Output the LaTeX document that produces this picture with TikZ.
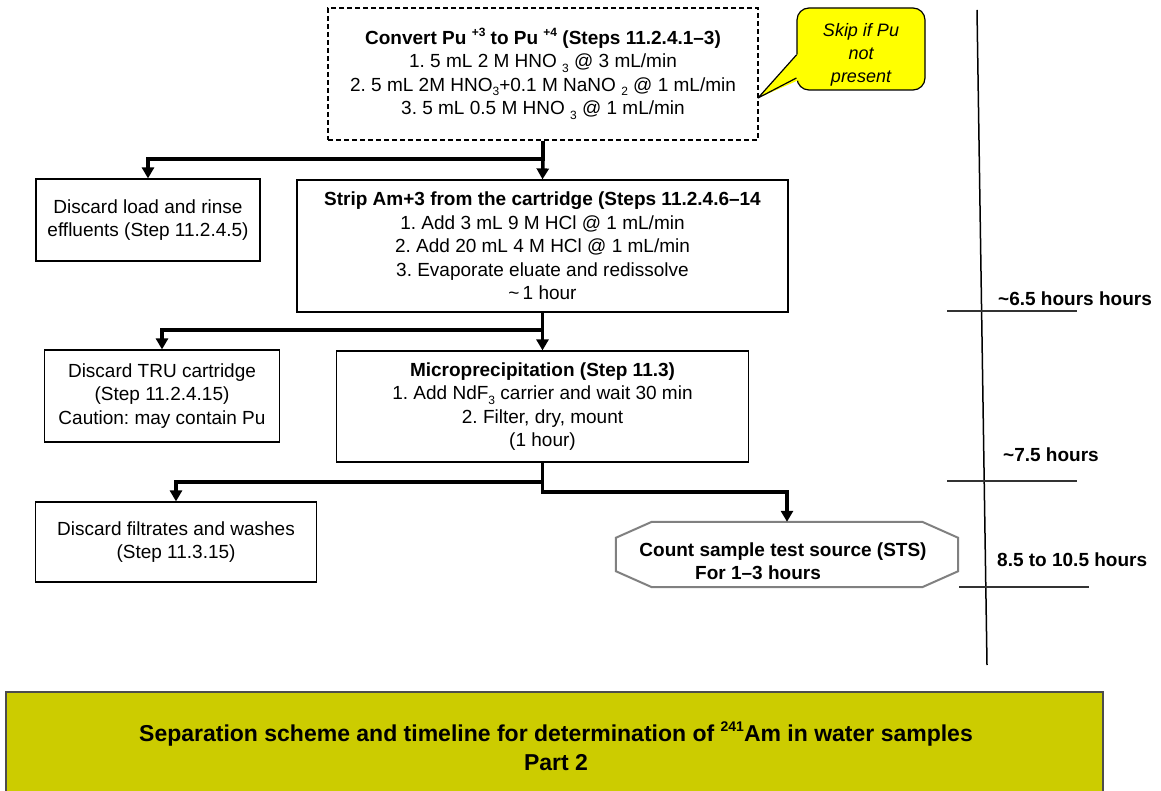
\documentclass[tikz,border=0pt]{standalone}
\usepackage{fontspec}
\setmainfont{Liberation Sans}
\usetikzlibrary{arrows.meta,calc}
\definecolor{callY}{RGB}{255,255,0}
\definecolor{bannerY}{RGB}{204,204,0}
\newcommand{\sbs}[1]{\raisebox{-0.45ex}{\fontsize{12}{12}\selectfont #1}}
\newcommand{\sps}[1]{\raisebox{0.75ex}{\fontsize{12}{12}\selectfont #1}}
\newcommand{\spb}[1]{\raisebox{0.8ex}{\fontsize{14}{14}\selectfont #1}}
\frenchspacing
\begin{document}
\begin{tikzpicture}[x=1pt,y=-1pt,
  box/.style={draw, line width=1.2pt, fill=white, align=center, inner sep=0pt,
    font=\fontsize{19}{23.5}\selectfont},
  dbox/.style={box, dash pattern=on 5pt off 3pt, line width=2.5pt},
  conn/.style={line width=3.5pt},
  arr/.style={conn, -{Triangle[width=12pt,length=11pt]}},
  tline/.style={line width=1.5pt},
  tickline/.style={line width=2pt, draw=black!80},
  tlabel/.style={anchor=west, font=\bfseries\fontsize{19}{22}\selectfont, inner sep=0pt}]
\useasboundingbox (0,0) rectangle (1161,791);

% boxes
\node[dbox, minimum width=430pt, minimum height=132pt] (conv) at (543,74)
  {\textbf{Convert Pu \sps{+3} to Pu \sps{+4} (Steps 11.2.4.1–3)}\\
   1. 5 mL 2 M HNO \sbs{3} @ 3 mL/min\\
   2. 5 mL 2M HNO\sbs{3}+0.1 M NaNO \sbs{2} @ 1 mL/min\\
   3. 5 mL 0.5 M HNO \sbs{3} @ 1 mL/min};

\node[box, minimum width=224pt, minimum height=82pt] (dload) at (148,220)
  {Discard load and rinse\\effluents (Step 11.2.4.5)};

\node[box, minimum width=491pt, minimum height=132pt] (strip) at (542.5,246)
  {\textbf{Strip Am+3 from the cartridge (Steps 11.2.4.6–14}\\
   1. Add 3 mL 9 M HCl @ 1 mL/min\\
   2. Add 20 mL 4 M HCl @ 1 mL/min\\
   3. Evaporate eluate and  redissolve\\
   \textasciitilde\,1 hour};

\node[box, minimum width=235pt, minimum height=92pt] (tru) at (162,396)
  {Discard TRU cartridge\\(Step 11.2.4.15)\\Caution: may contain Pu};

\node[box, minimum width=412pt, minimum height=111pt] (micro) at (542.5,406.5)
  {\textbf{Microprecipitation (Step 11.3)}\\
   1. Add NdF\sbs{3} carrier and wait 30 min\\
   2. Filter, dry, mount\\
   (1 hour)};

\node[box, minimum width=281pt, minimum height=80pt] (filt) at (176,542)
  {Discard filtrates and washes\\(Step 11.3.15)};

% octagon
\node[minimum width=342pt, minimum height=65pt, inner sep=0pt] (sts) at (787,554.5) {};
\fill[white] ($(sts.north west)+(36,0)$) -- ($(sts.north east)+(-36,0)$)
  -- ($(sts.north east)+(0,16)$) -- ($(sts.south east)+(0,-16)$)
  -- ($(sts.south east)+(-36,0)$) -- ($(sts.south west)+(36,0)$)
  -- ($(sts.south west)+(0,-16)$) -- ($(sts.north west)+(0,16)$) -- cycle;
\draw[line width=2pt, draw=gray] ($(sts.north west)+(36,0)$) -- ($(sts.north east)+(-36,0)$)
  -- ($(sts.north east)+(0,16)$) -- ($(sts.south east)+(0,-16)$)
  -- ($(sts.south east)+(-36,0)$) -- ($(sts.south west)+(36,0)$)
  -- ($(sts.south west)+(0,-16)$) -- ($(sts.north west)+(0,16)$) -- cycle;
\node[align=center, inner sep=0pt, font=\bfseries\fontsize{19}{23}\selectfont] (ststext) at (783,561.5)
  {Count sample test source (STS)\\For 1–3 hours\hspace*{50pt}};

% callout
\node[draw, line width=1.2pt, fill=callY, rounded corners=12pt,
  minimum width=128pt, minimum height=82pt, inner sep=0pt] (skip) at (861,49) {};
\coordinate (tip) at (758,98);
\fill[callY] ($(skip.west)+(2.5,4)$) -- (tip) -- ($(skip.west)+(2.5,31)$) -- cycle;
\draw[line width=1.2pt, line join=round] ($(skip.west)+(0,6)$) -- (tip) -- ($(skip.west)+(0,29)$);
\node[align=center, inner sep=0pt, font=\itshape\fontsize{18}{23}\selectfont] (skiptext) at (861,55)
  {Skip if Pu\\not\\present};

% connectors
\coordinate (j1) at (543,159);
\draw[arr] (conv.south) -- (j1) -| (dload.north);
\draw[arr] (j1) -- (strip.north);
\coordinate (j2) at (542.5,330);
\draw[arr] (strip.south) -- (j2) -| (tru.north);
\draw[arr] (j2) -- (micro.north);
\coordinate (j3) at (542.5,482);
\coordinate (j4) at (542.5,492);
\draw[arr] (micro.south) -- (j3) -| (filt.north);
\draw[arr] (j3) -- (j4) -| (sts.north);

% timeline
\coordinate (ttop) at (977,10);
\coordinate (tbot) at (987,665);
\draw[tline] (ttop) -- (tbot);
\coordinate (t1a) at (947,311); \coordinate (t1b) at (1077,311);
\coordinate (t2a) at (947,481); \coordinate (t2b) at (1077,481);
\coordinate (t3a) at (959,587); \coordinate (t3b) at (1089,587);
\draw[tickline] (t1a) -- (t1b);
\draw[tickline] (t2a) -- (t2b);
\draw[tickline] (t3a) -- (t3b);
\node[tlabel] (l1) at (998,299) {\textasciitilde6.5 hours hours};
\node[tlabel] (l2) at (1003,455) {\textasciitilde7.5 hours};
\node[tlabel] (l3) at (997,560) {8.5 to 10.5 hours};

% banner
\fill[bannerY] (6,692) rectangle (1103,795);
\draw[line width=1.5pt, draw=black!70] (6,795) -- (6,692) -- (1103,692) -- (1103,795);
\node[align=center, inner sep=0pt, font=\bfseries\fontsize{23}{29}\selectfont] (title) at (556,746.5)
  {Separation scheme and timeline for determination of \spb{241}Am in water samples\\Part 2};
\end{tikzpicture}
\end{document}
